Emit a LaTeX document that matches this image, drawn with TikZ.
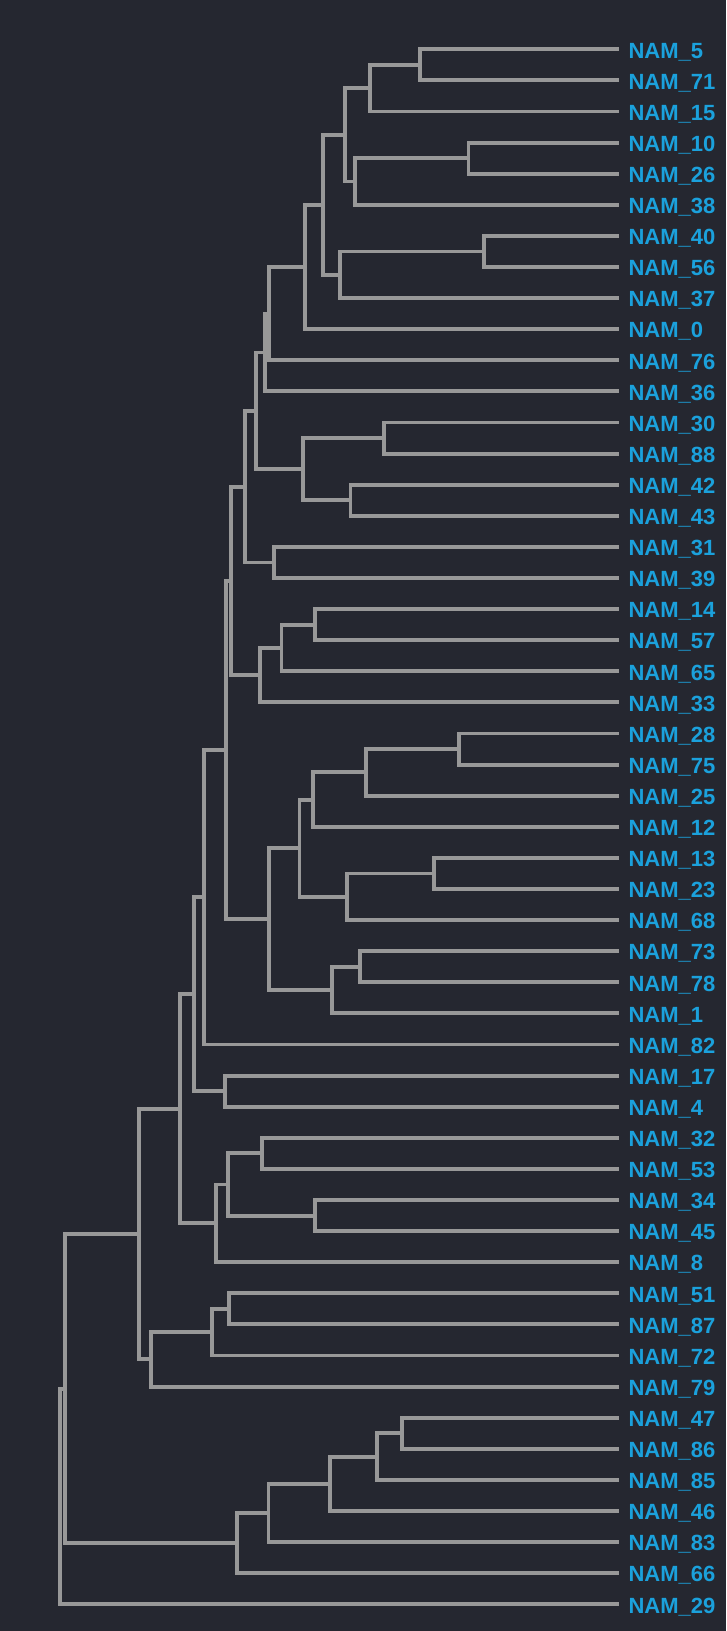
\documentclass[tikz,border=0pt]{standalone}
\usepackage{fontspec}
\setmainfont{Liberation Sans}
\usetikzlibrary{calc}
\definecolor{bgc}{RGB}{37,39,48}
\definecolor{brc}{RGB}{152,152,152}
\definecolor{labc}{RGB}{27,161,220}
\tikzset{
  br/.style={draw=brc, line width=3.9pt, line join=miter},
  lab/.style={anchor=base west, inner sep=0pt, text=labc, font=\fontsize{22}{22}\selectfont\bfseries}
}
\newcommand\mkjoin[4]{%
  \path let \p1=(#3), \p2=(#4) in coordinate (#1) at (#2pt, {0.5*\y1+0.5*\y2});
  \draw[br] (#3) -| (#1) |- (#4);
}
\begin{document}
\begin{tikzpicture}[x=1pt, y=-1pt]
\fill[bgc] (0,0) rectangle (726,1631);
\useasboundingbox (0,0) rectangle (726,1631);
\foreach \n [count=\i from 0] in {5,71,15,10,26,38,40,56,37,0,76,36,30,88,42,43,31,39,14,57,65,33,28,75,25,12,13,23,68,73,78,1,82,17,4,32,53,34,45,8,51,87,72,79,47,86,85,46,83,66,29} {
  \coordinate (l\n) at (618.7, {49.3+31.1*\i});
  \node[lab] (t\n) at (628.3, {49.3+31.1*\i+8.7}) {NAM\_\n};
}
\mkjoin{A}{420.4}{l5}{l71}
\mkjoin{B}{370.4}{A}{l15}
\mkjoin{C}{468.5}{l10}{l26}
\mkjoin{D}{355.1}{C}{l38}
\mkjoin{E}{345.4}{B}{D}
\mkjoin{F}{484.3}{l40}{l56}
\mkjoin{G}{340.3}{F}{l37}
\mkjoin{H}{323.1}{E}{G}
\mkjoin{I}{304.6}{H}{l0}
\mkjoin{J}{269.0}{I}{l76}
\mkjoin{K}{264.8}{J}{l36}
\mkjoin{M}{384.3}{l30}{l88}
\mkjoin{N}{350.5}{l42}{l43}
\mkjoin{O}{303.2}{M}{N}
\mkjoin{L}{256.0}{K}{O}
\mkjoin{Q}{273.6}{l31}{l39}
\mkjoin{P}{245.4}{L}{Q}
\mkjoin{R}{315.3}{l14}{l57}
\mkjoin{S}{281.5}{R}{l65}
\mkjoin{T}{259.7}{S}{l33}
\mkjoin{U}{231.0}{P}{T}
\mkjoin{X1}{458.8}{l28}{l75}
\mkjoin{X2}{365.7}{X1}{l25}
\mkjoin{X3}{313.4}{X2}{l12}
\mkjoin{X4}{433.8}{l13}{l23}
\mkjoin{X5}{347.2}{X4}{l68}
\mkjoin{X6}{299.5}{X3}{X5}
\mkjoin{X7}{359.7}{l73}{l78}
\mkjoin{X8}{332.0}{X7}{l1}
\mkjoin{X9}{269.0}{X6}{X8}
\mkjoin{V}{226.0}{U}{X9}
\mkjoin{W}{203.7}{V}{l82}
\mkjoin{Y}{225.0}{l17}{l4}
\mkjoin{Z}{194.4}{W}{Y}
\mkjoin{AA1}{262.0}{l32}{l53}
\mkjoin{AA2}{315.3}{l34}{l45}
\mkjoin{AA}{227.8}{AA1}{AA2}
\mkjoin{AB}{215.7}{AA}{l8}
\mkjoin{AC}{179.6}{Z}{AB}
\mkjoin{AD1}{228.7}{l51}{l87}
\mkjoin{AD}{212.0}{AD1}{l72}
\mkjoin{AE}{151.4}{AD}{l79}
\mkjoin{AF}{138.9}{AC}{AE}
\mkjoin{AG1}{401.9}{l47}{l86}
\mkjoin{AG}{377.3}{AG1}{l85}
\mkjoin{AH}{330.1}{AG}{l46}
\mkjoin{AI}{268.5}{AH}{l83}
\mkjoin{AJ}{236.6}{AI}{l66}
\mkjoin{AK}{64.8}{AF}{AJ}
\mkjoin{root}{60.2}{AK}{l29}
\end{tikzpicture}
\end{document}
